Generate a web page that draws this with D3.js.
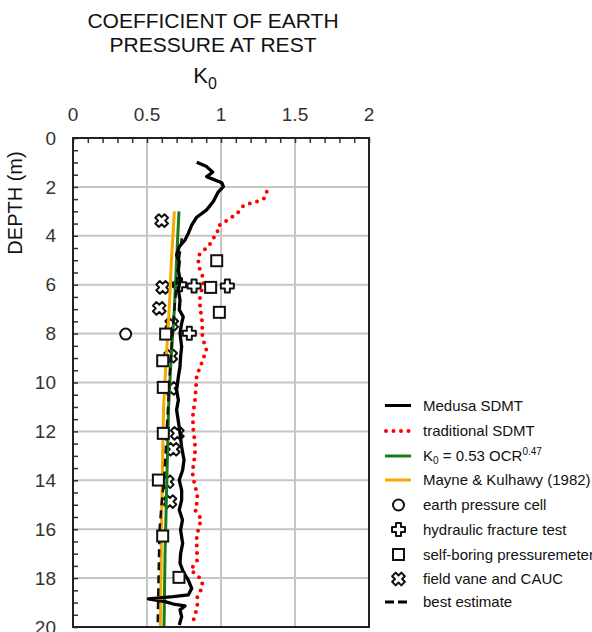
<!DOCTYPE html>
<html>
<head>
<meta charset="utf-8">
<script src="https://cdn.jsdelivr.net/npm/d3@7"></script>
<style>
  html, body { margin: 0; padding: 0; background: #fff; }
  svg { display: block; font-family: "Liberation Sans", Arial, sans-serif; }
</style>
</head>
<body>
<svg id="chart" width="592" height="632"></svg>
<script>
// ---------------- DATA ----------------
const xTickLabels = [0, 0.5, 1, 1.5, 2];
const yTickLabels = [0, 2, 4, 6, 8, 10, 12, 14, 16, 18, 20];

const medusaDepth = [0.99,1.17,1.40,1.58,1.83,1.99,2.20,2.60,2.94,3.24,3.56,3.90,4.17,4.45,4.79,5.06,5.40,5.81,6.22,6.63,7.03,7.31,7.58,7.99,8.54,8.94,9.35,9.76,10.31,10.72,11.12,11.60,12.08,12.63,13.17,13.58,13.99,14.40,14.81,15.21,15.62,16.03,16.58,17.00,17.39,17.74,18.08,18.42,18.69,18.76,18.85,18.96,19.06,19.14,19.30,19.58,19.92];
const medusaK0 =    [0.836,0.903,0.944,0.903,1.005,1.016,0.982,0.948,0.903,0.836,0.802,0.779,0.757,0.718,0.700,0.718,0.712,0.723,0.712,0.723,0.718,0.745,0.734,0.723,0.734,0.727,0.723,0.712,0.700,0.712,0.700,0.712,0.723,0.734,0.750,0.741,0.718,0.734,0.734,0.718,0.740,0.727,0.741,0.727,0.723,0.745,0.779,0.802,0.779,0.678,0.509,0.622,0.678,0.757,0.723,0.734,0.718];

const tradDepth = [2.20,2.47,2.58,2.67,2.78,2.97,3.15,3.33,3.49,3.63,3.86,4.10,4.38,4.58,4.81,5.13,5.40,5.67,5.94,6.22,6.49,6.83,7.10,7.65,7.92,8.26,8.71,8.94,9.39,9.69,10.17,10.72,11.40,11.94,12.49,13.03,13.30,13.78,14.26,14.53,14.87,15.21,15.62,15.83,16.31,16.72,17.26,17.67,17.87,18.08,18.35,18.76,19.17,19.51,19.74];
const tradK0 =    [1.309,1.293,1.252,1.200,1.150,1.128,1.095,1.050,1.009,0.975,0.977,0.948,0.921,0.887,0.847,0.847,0.858,0.876,0.880,0.870,0.858,0.858,0.863,0.876,0.870,0.880,0.903,0.885,0.858,0.836,0.831,0.824,0.809,0.813,0.824,0.824,0.813,0.809,0.824,0.840,0.840,0.824,0.870,0.853,0.836,0.836,0.840,0.795,0.836,0.870,0.876,0.840,0.840,0.824,0.813];

const ocrDepth = [3, 5, 7, 9, 11, 13, 15, 17, 20];
const ocrK0 =    [0.716, 0.700, 0.685, 0.663, 0.646, 0.638, 0.630, 0.622, 0.615];

const mayneDepth = [3, 5, 7, 9, 11, 13, 15, 17, 20];
const mayneK0 =    [0.685, 0.665, 0.650, 0.630, 0.612, 0.606, 0.600, 0.596, 0.590];

const bestDepth = [4.1, 5, 6, 7, 8, 9, 10, 11, 12, 13, 14, 15, 16, 18, 20];
const bestK0 =    [0.735, 0.715, 0.700, 0.685, 0.672, 0.660, 0.650, 0.642, 0.633, 0.625, 0.615, 0.598, 0.585, 0.578, 0.572];

const cellK0 = [0.356];
const cellDepth = [8.02];

const hydroK0 = [0.818, 1.043, 0.720, 0.786];
const hydroDepth = [6.05, 6.05, 6.00, 7.99];

const sbpK0 = [0.971, 0.930, 0.989, 0.626, 0.606, 0.610, 0.610, 0.577, 0.606, 0.716];
const sbpDepth = [5.02, 6.11, 7.13, 8.02, 9.11, 10.20, 12.08, 13.99, 16.28, 17.97];

const vaneK0 = [0.599, 0.606, 0.583, 0.667, 0.660, 0.662, 0.705, 0.678, 0.637, 0.655];
const vaneDepth = [3.38, 6.11, 6.97, 7.61, 8.92, 10.24, 12.08, 12.73, 14.06, 14.87];

const legendLabels = ["Medusa SDMT", "traditional SDMT", "K0 formula", "Mayne & Kulhawy (1982)",
  "earth pressure cell", "hydraulic fracture test", "self-boring pressuremeter", "field vane and CAUC", "best estimate"];

// ---------------- CHART ----------------
const svg = d3.select("#chart");
const x = d3.scaleLinear().domain([0, 2]).range([73, 369]);
const y = d3.scaleLinear().domain([0, 20]).range([138, 627]);
const zip = (a, b) => a.map((v, i) => [v, b[i]]);

// grid
const grid = svg.append("g").attr("stroke", "#c6c6c6").attr("stroke-width", 2);
grid.selectAll("line.v").data([0.5, 1, 1.5]).join("line")
  .attr("x1", d => x(d)).attr("x2", d => x(d)).attr("y1", y(0)).attr("y2", y(20));
grid.selectAll("line.h").data(d3.range(2, 20, 2)).join("line")
  .attr("y1", d => y(d)).attr("y2", d => y(d)).attr("x1", x(0)).attr("x2", x(2));

// minor ticks (inside)
const topAx = svg.append("g").attr("transform", `translate(0,${y(0)})`)
  .call(d3.axisTop(x).tickValues(d3.range(0, 2.001, 0.1)).tickSize(-5).tickFormat(""));
const leftAx = svg.append("g").attr("transform", `translate(${x(0)},0)`)
  .call(d3.axisLeft(y).tickValues(d3.range(0, 20.001, 0.5)).tickSize(-5).tickFormat(""));
[topAx, leftAx].forEach(a => {
  a.select(".domain").remove();
  a.selectAll(".tick line").attr("stroke", "#333").attr("stroke-width", 1.5);
});

// tick labels
svg.append("g").selectAll("text").data(xTickLabels).join("text")
  .attr("x", d => x(d)).attr("y", 121).attr("text-anchor", "middle")
  .attr("font-size", 19).attr("fill", "#333").text(d => d);
svg.append("g").selectAll("text").data(yTickLabels).join("text")
  .attr("x", 56).attr("y", d => y(d)).attr("dy", "0.35em").attr("text-anchor", "end")
  .attr("font-size", 19).attr("fill", "#333").text(d => d);

// titles
svg.append("text").attr("x", 213).attr("y", 28).attr("text-anchor", "middle")
  .attr("font-size", 21).attr("fill", "#111").text("COEFFICIENT OF EARTH");
svg.append("text").attr("x", 213).attr("y", 51.5).attr("text-anchor", "middle")
  .attr("font-size", 21).attr("fill", "#111").text("PRESSURE AT REST");
const k0t = svg.append("text").attr("x", 205).attr("y", 83).attr("text-anchor", "middle")
  .attr("font-size", 22).attr("fill", "#111");
k0t.append("tspan").text("K");
k0t.append("tspan").attr("font-size", 16).attr("dy", 6).text("0");
svg.append("text").attr("transform", "translate(22,203) rotate(-90)")
  .attr("text-anchor", "middle").attr("font-size", 20).attr("fill", "#111").text("DEPTH (m)");

// marker shapes
const plusPath = "M-2.5,-6.5H2.5V-2.5H6.5V2.5H2.5V6.5H-2.5V2.5H-6.5V-2.5H-2.5Z";
function drawPlus(g, pts, rot) {
  g.selectAll("path").data(pts).join("path")
    .attr("d", plusPath)
    .attr("transform", d => `translate(${x(d[0])},${y(d[1])}) rotate(${rot})`)
    .attr("fill", "#fff").attr("stroke", "#111").attr("stroke-width", 2).attr("stroke-linejoin", "round");
}
drawPlus(svg.append("g"), zip(vaneK0, vaneDepth), 45);
drawPlus(svg.append("g"), zip(hydroK0, hydroDepth), 0);

// lines
const line = d3.line().x(d => x(d[0])).y(d => y(d[1]));
svg.append("path").datum(zip(mayneK0, mayneDepth)).attr("d", line)
  .attr("fill", "none").attr("stroke", "#f5a800").attr("stroke-width", 3);
svg.append("path").datum(zip(ocrK0, ocrDepth)).attr("d", line)
  .attr("fill", "none").attr("stroke", "#1a7a1a").attr("stroke-width", 3);
svg.append("path").datum(zip(bestK0, bestDepth)).attr("d", line)
  .attr("fill", "none").attr("stroke", "#111").attr("stroke-width", 2.5).attr("stroke-dasharray", "8 5");
svg.append("path").datum(zip(tradK0, tradDepth)).attr("d", line)
  .attr("fill", "none").attr("stroke", "#ff0000").attr("stroke-width", 4)
  .attr("stroke-linecap", "round").attr("stroke-dasharray", "0 7.5");
svg.append("path").datum(zip(medusaK0, medusaDepth)).attr("d", line)
  .attr("fill", "none").attr("stroke", "#000").attr("stroke-width", 3.3).attr("stroke-linejoin", "round");

// squares and circles
svg.append("g").selectAll("rect").data(zip(sbpK0, sbpDepth)).join("rect")
  .attr("x", d => x(d[0]) - 5.5).attr("y", d => y(d[1]) - 5.5).attr("width", 11).attr("height", 11)
  .attr("fill", "#fff").attr("stroke", "#111").attr("stroke-width", 2);
svg.append("g").selectAll("circle").data(zip(cellK0, cellDepth)).join("circle")
  .attr("cx", d => x(d[0])).attr("cy", d => y(d[1])).attr("r", 5.5)
  .attr("fill", "#fff").attr("stroke", "#111").attr("stroke-width", 2);

// frame
svg.append("rect").attr("x", x(0)).attr("y", y(0)).attr("width", x(2) - x(0)).attr("height", y(20) - y(0))
  .attr("fill", "none").attr("stroke", "#222").attr("stroke-width", 2);

// legend
const legY = [405.5, 431, 456, 480, 505, 529.5, 554.5, 579, 602];
const lg = svg.append("g");
const lx1 = 385, lx2 = 411, lxc = 398.5;
lg.append("line").attr("x1", lx1).attr("x2", lx2).attr("y1", legY[0]).attr("y2", legY[0]).attr("stroke", "#000").attr("stroke-width", 3);
lg.append("line").attr("x1", lx1 + 1).attr("x2", lx2).attr("y1", legY[1]).attr("y2", legY[1]).attr("stroke", "#ff0000")
  .attr("stroke-width", 4).attr("stroke-linecap", "round").attr("stroke-dasharray", "0 7.5");
lg.append("line").attr("x1", lx1).attr("x2", lx2).attr("y1", legY[2]).attr("y2", legY[2]).attr("stroke", "#1a7a1a").attr("stroke-width", 3);
lg.append("line").attr("x1", lx1).attr("x2", lx2).attr("y1", legY[3]).attr("y2", legY[3]).attr("stroke", "#f5a800").attr("stroke-width", 3);
lg.append("circle").attr("cx", lxc).attr("cy", legY[4]).attr("r", 5.5).attr("fill", "#fff").attr("stroke", "#111").attr("stroke-width", 2);
lg.append("path").attr("d", plusPath).attr("transform", `translate(${lxc},${legY[5]})`).attr("fill", "#fff").attr("stroke", "#111").attr("stroke-width", 2).attr("stroke-linejoin", "round");
lg.append("rect").attr("x", lxc - 5.5).attr("y", legY[6] - 5.5).attr("width", 11).attr("height", 11).attr("fill", "#fff").attr("stroke", "#111").attr("stroke-width", 2);
lg.append("path").attr("d", plusPath).attr("transform", `translate(${lxc},${legY[7]}) rotate(45)`).attr("fill", "#fff").attr("stroke", "#111").attr("stroke-width", 2).attr("stroke-linejoin", "round");
lg.append("line").attr("x1", lx1).attr("x2", lx2).attr("y1", legY[8]).attr("y2", legY[8]).attr("stroke", "#000").attr("stroke-width", 3).attr("stroke-dasharray", "9 4");

legendLabels.forEach((lab, i) => {
  const t = lg.append("text").attr("x", 423).attr("y", legY[i]).attr("dy", "0.35em")
    .attr("font-size", 15).attr("fill", "#111");
  if (i === 2) {
    t.append("tspan").text("K");
    t.append("tspan").attr("font-size", 10).attr("dy", 3).text("0");
    t.append("tspan").attr("dy", -3).text(" = 0.53 OCR");
    t.append("tspan").attr("font-size", 10).attr("dy", -6).text("0.47");
  } else {
    t.text(lab);
  }
});
</script>
</body>
</html>
